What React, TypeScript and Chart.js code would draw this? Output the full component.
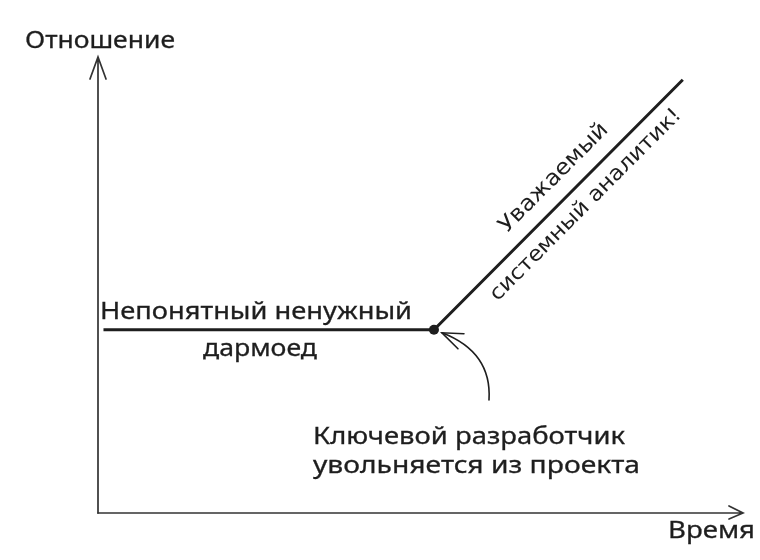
import React, { useEffect, useRef } from "react";
import { Chart, registerables } from "chart.js";

Chart.register(...registerables);

// Time (x) and ratio (y) of the career curve
const timePoints = [1, 52, 90.4];
const ratioPoints = [40, 40, 94.6];
const bendIndex = 1;

const yAxisTitle = "Отношение";
const xAxisTitle = "Время";
const flatLabel = ["Непонятный ненужный", "дармоед"];
const riseLabel = ["Уважаемый", "системный аналитик!"];
const eventLabel = ["Ключевой разработчик", "увольняется из проекта"];

const INK = "#1e1e1e";
const FONT = "'Noto Sans', 'Open Sans', sans-serif";
const ROT_FONT = "'DejaVu Sans', sans-serif";

// draws text at a given font size, stretched horizontally to a target width
function fitText(
  ctx: CanvasRenderingContext2D,
  text: string,
  width: number,
  x: number,
  y: number,
  align: CanvasTextAlign,
  size = 24,
  family = FONT,
  weightStroke = 0.3
) {
  ctx.save();
  ctx.font = `${size}px ${family}`;
  ctx.textAlign = align;
  const w = ctx.measureText(text).width;
  ctx.translate(x, y);
  ctx.scale(width / w, 1);
  ctx.fillText(text, 0, 0);
  if (weightStroke > 0) {
    ctx.lineWidth = weightStroke;
    ctx.strokeStyle = INK;
    ctx.strokeText(text, 0, 0);
  }
  ctx.restore();
}

const decorPlugin = {
  id: "decor",
  beforeDatasetsDraw(chart: any) {
    const { ctx, chartArea } = chart;
    const { left, right, top, bottom } = chartArea;
    ctx.save();
    ctx.strokeStyle = "#333";
    ctx.lineWidth = 1.7;
    ctx.lineCap = "round";
    // Y axis
    ctx.beginPath();
    ctx.moveTo(left + 1, bottom);
    ctx.lineTo(left + 1, top + 2);
    ctx.moveTo(left - 7, top + 24);
    ctx.lineTo(left + 1, top + 2);
    ctx.lineTo(left + 9, top + 24);
    ctx.stroke();
    // X axis
    ctx.beginPath();
    ctx.moveTo(left + 1, bottom);
    ctx.lineTo(right - 2, bottom);
    ctx.moveTo(right - 16, bottom - 7);
    ctx.lineTo(right - 2, bottom);
    ctx.lineTo(right - 16, bottom + 6);
    ctx.stroke();
    ctx.restore();
  },
  afterDatasetsDraw(chart: any) {
    const { ctx, scales } = chart;
    const xs = scales.x;
    const ys = scales.y;
    ctx.save();
    ctx.fillStyle = INK;
    ctx.textBaseline = "middle";

    // axis titles
    fitText(ctx, yAxisTitle, 150, 25, 41, "left");
    fitText(ctx, xAxisTitle, 87, 755, 531, "right");

    // flat label
    const bx = xs.getPixelForValue(timePoints[bendIndex]);
    const by = ys.getPixelForValue(ratioPoints[bendIndex]);
    fitText(ctx, flatLabel[0], 312, 100, by - 18, "left");
    fitText(ctx, flatLabel[1], 114, 260, by + 19, "center");

    // event label
    fitText(ctx, eventLabel[0], 312, 313, 437, "left");
    fitText(ctx, eventLabel[1], 327, 313, 466, "left");

    // rotated labels along rising line
    const ex = xs.getPixelForValue(timePoints[2]);
    const ey = ys.getPixelForValue(ratioPoints[2]);
    const ang = Math.atan2(ey - by, ex - bx);
    ctx.save();
    ctx.translate(554, 178);
    ctx.rotate(ang);
    fitText(ctx, riseLabel[0], 145, 0, 0, "center", 22, ROT_FONT, 0);
    ctx.restore();
    ctx.save();
    ctx.translate(586, 205);
    ctx.rotate(ang);
    fitText(ctx, riseLabel[1], 262, 0, 0, "center", 21, ROT_FONT, 0);
    ctx.restore();

    // curved arrow to the bend
    ctx.strokeStyle = INK;
    ctx.lineWidth = 1.6;
    ctx.lineCap = "round";
    const tx = bx + 8;
    const ty = by + 3;
    ctx.beginPath();
    ctx.moveTo(489, 400);
    ctx.quadraticCurveTo(492, 352, tx, ty);
    ctx.stroke();
    ctx.beginPath();
    ctx.moveTo(tx + 22, ty + 1);
    ctx.lineTo(tx, ty);
    ctx.lineTo(tx + 16, ty + 16);
    ctx.stroke();
    ctx.restore();
  },
};

export default function App() {
  const ref = useRef<HTMLCanvasElement | null>(null);
  useEffect(() => {
    if (!ref.current) return;
    const chart = new Chart(ref.current, {
      type: "line",
      data: {
        datasets: [
          {
            data: timePoints.map((t, i) => ({ x: t, y: ratioPoints[i] })),
            borderColor: INK,
            borderWidth: 3,
            pointRadius: timePoints.map((_, i) => (i === bendIndex ? 5 : 0)),
            pointBackgroundColor: INK,
            pointBorderWidth: 0,
            tension: 0,
          },
        ],
      },
      options: {
        animation: false,
        responsive: false,
        layout: { padding: { left: 97, right: 15, top: 55, bottom: 47 } },
        scales: {
          x: { type: "linear", min: 0, max: 100, display: false },
          y: { type: "linear", min: 0, max: 100, display: false },
        },
        plugins: { legend: { display: false }, tooltip: { enabled: false } },
      },
      plugins: [decorPlugin],
    });
    return () => chart.destroy();
  }, []);
  return (
    <div style={{ position: "fixed", left: 0, top: 0, width: 760, height: 560, background: "#fff" }}>
      <canvas ref={ref} width={760} height={560} />
    </div>
  );
}
